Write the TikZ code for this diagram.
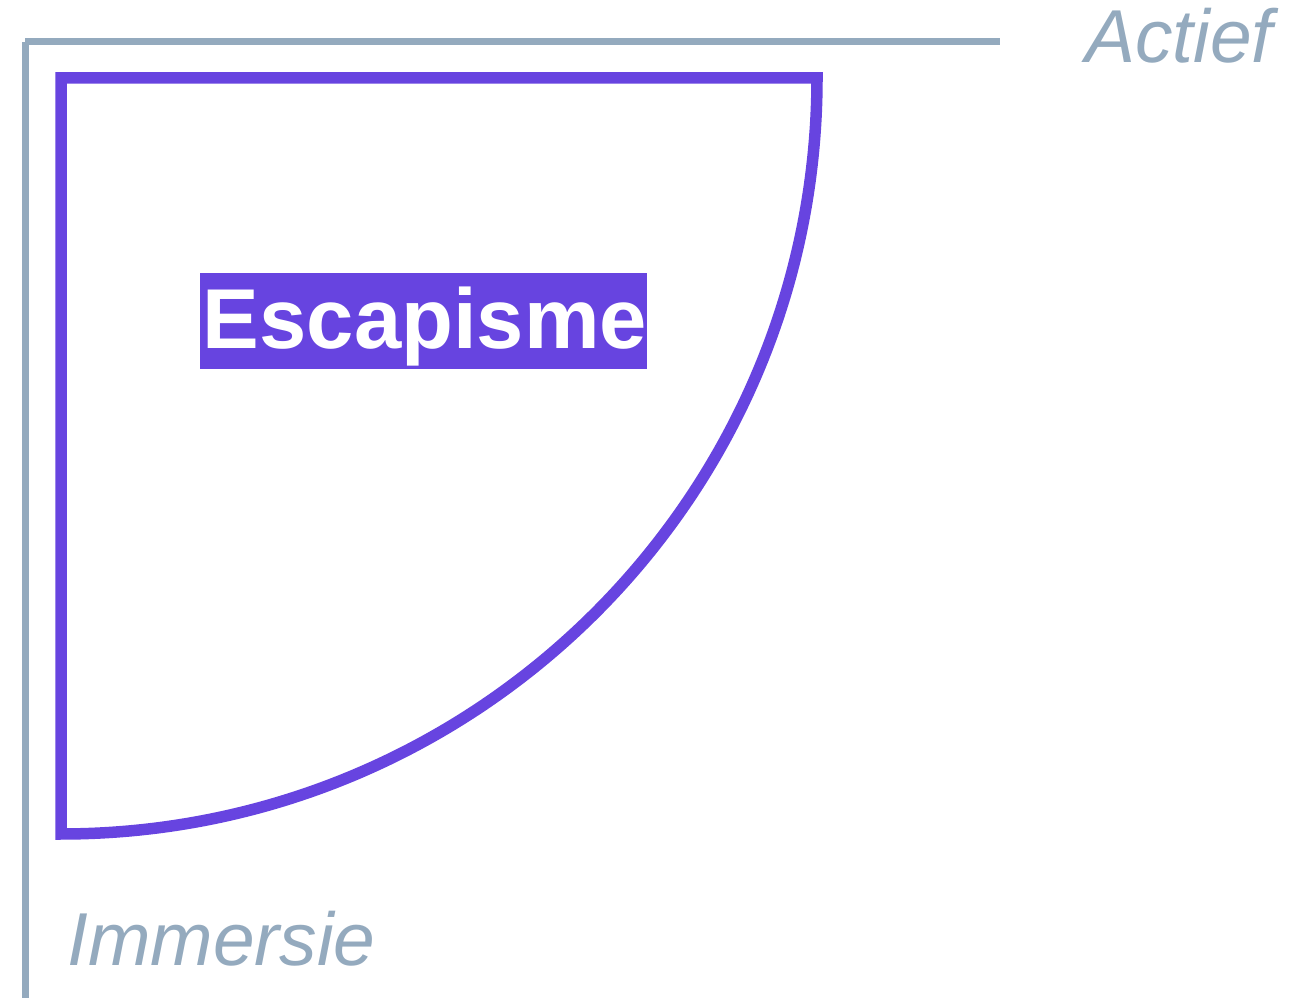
\documentclass[tikz,border=0pt]{standalone}
\usepackage{fontspec}
\setmainfont{Liberation Sans}
\definecolor{axisgray}{RGB}{148,170,190}
\definecolor{escpurple}{RGB}{103,68,224}
\begin{document}
\begin{tikzpicture}[x=1pt,y=1pt,
  axisline/.style={draw=axisgray,line width=7pt},
  axislabel/.style={text=axisgray,font=\fontsize{75}{82}\selectfont\itshape,inner sep=0pt,anchor=base west},
  quadrant/.style={draw=escpurple,line width=11.5pt,line join=miter},
  tagbox/.style={fill=escpurple,inner sep=0pt,minimum width=447pt,minimum height=96pt},
  tagtext/.style={text=white,font=\fontsize{85}{90}\selectfont\bfseries,inner sep=0pt,anchor=base}]
\useasboundingbox (0,0) rectangle (1300,998);
% axes
\coordinate (origin) at (25,956);
\coordinate (xend) at (1000,956);
\coordinate (yend) at (25,0);
\draw[axisline] (origin) -- (xend);
\draw[axisline] (origin) -- (yend);
% quadrant shape
\coordinate (qc) at (61,920);
\coordinate (qb) at (61,164);
\coordinate (qr) at (817,920);
\draw[quadrant] (qb) -- (qc) -- (qr) arc[start angle=0,end angle=-90,radius=756pt] -- cycle;
% label
\node[tagbox] (escbg) at (423.5,677) {};
\node[tagtext] (esc) at (425,649) {Escapisme};
% axis labels
\node[axislabel] (actief) at (1085,935) {Actief};
\node[axislabel] (immersie) at (67,33) {Immersie};
\end{tikzpicture}
\end{document}
